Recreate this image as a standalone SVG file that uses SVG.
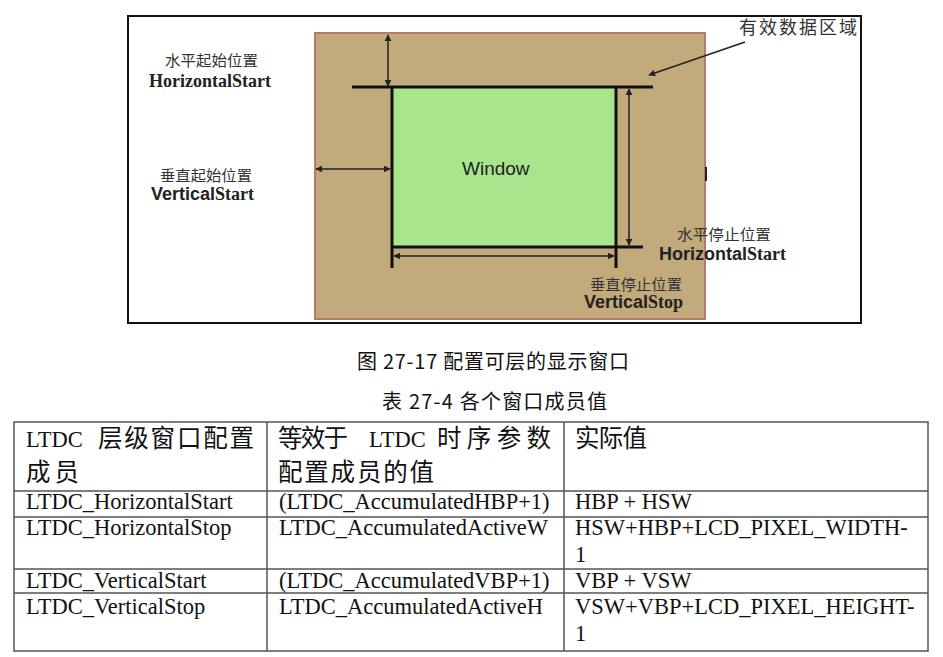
<svg xmlns="http://www.w3.org/2000/svg" width="943" height="657" viewBox="0 0 943 657">
<defs>
<style>
.cjk{font-family:"Noto Sans CJK SC","Noto Sans",sans-serif;}
.lbl{font-family:"Noto Sans CJK SC",sans-serif;font-size:15px;fill:#333;}
.tb{font-family:"Liberation Serif",serif;font-weight:bold;font-size:18px;fill:#222;}
.sb{font-family:"Liberation Sans",sans-serif;font-weight:bold;font-size:18px;fill:#222;}
.thick{stroke:#111;stroke-width:3;fill:none;}
.arr{stroke:#222;stroke-width:1.5;fill:none;}
.grid{stroke:#555;stroke-width:1.5;fill:none;}
.cell{font-family:"Liberation Serif",serif;font-size:22.5px;fill:#111;}
.hcjk{font-family:"Noto Sans CJK SC",sans-serif;font-size:24.5px;fill:#111;}
.cap{font-family:"Noto Sans CJK SC",sans-serif;font-size:20px;fill:#111;}
</style>
<marker id="ah" viewBox="0 0 10 10" refX="9" refY="5" markerWidth="7" markerHeight="7" orient="auto-start-reverse" markerUnits="userSpaceOnUse">
<path d="M0,0 L10,5 L0,10 z" fill="#222"/>
</marker>
</defs>
<rect width="943" height="657" fill="#fff"/>

<g id="frame">
<rect x="128" y="16" width="733" height="307" fill="#fff" stroke="#111" stroke-width="2"/>
</g>

<g id="data-area">
<rect x="315" y="33" width="390" height="286" fill="#c2aa7c" stroke="#b47a6c" stroke-width="2"/>
<line x1="706" y1="167" x2="706" y2="181" stroke="#222" stroke-width="2"/>
</g>

<g id="window">
<rect x="392" y="87" width="224" height="160" fill="#a8e58c"/>
<text x="462" y="175" font-family="Liberation Sans,sans-serif" font-size="19" fill="#222">Window</text>
</g>

<g id="guide-lines">
<line class="thick" x1="352" y1="87" x2="653" y2="87"/>
<line class="thick" x1="392" y1="86" x2="392" y2="268"/>
<line class="thick" x1="391" y1="247" x2="643" y2="247"/>
<line class="thick" x1="616" y1="86" x2="616" y2="268"/>
</g>

<g id="connectors">
<line class="arr" x1="388" y1="35" x2="388" y2="86" marker-start="url(#ah)" marker-end="url(#ah)"/>
<line class="arr" x1="316" y1="169" x2="390" y2="169" marker-start="url(#ah)" marker-end="url(#ah)"/>
<line class="arr" x1="394" y1="256" x2="614" y2="256" marker-start="url(#ah)" marker-end="url(#ah)"/>
<line class="arr" x1="629" y1="89" x2="629" y2="245" marker-start="url(#ah)" marker-end="url(#ah)"/>
<line class="arr" x1="745" y1="42" x2="649" y2="75" marker-end="url(#ah)"/>
</g>

<g id="label-hstart">
<text class="lbl" x="165" y="66" textLength="93" lengthAdjust="spacingAndGlyphs">水平起始位置</text>
<text class="tb" x="149" y="87" textLength="122" lengthAdjust="spacingAndGlyphs">HorizontalStart</text>
</g>
<g id="label-vstart">
<text class="lbl" x="160" y="181" textLength="92" lengthAdjust="spacingAndGlyphs">垂直起始位置</text>
<text x="151" y="200"><tspan class="sb">Vertical</tspan><tspan class="tb">Start</tspan></text>
</g>
<g id="label-area">
<text class="cjk" x="739" y="34" font-size="18" fill="#333" textLength="118" lengthAdjust="spacing">有效数据区域</text>
</g>
<g id="label-hstop">
<text class="lbl" x="677" y="240" textLength="94" lengthAdjust="spacingAndGlyphs">水平停止位置</text>
<text x="659" y="260"><tspan class="sb">Horizontal</tspan><tspan class="tb">Start</tspan></text>
</g>
<g id="label-vstop">
<text class="lbl" x="590" y="290" textLength="92" lengthAdjust="spacingAndGlyphs">垂直停止位置</text>
<text x="584" y="308"><tspan class="sb">Vertical</tspan><tspan class="tb">Stop</tspan></text>
</g>

<g id="captions">
<text class="cap" x="357" y="369" textLength="272" lengthAdjust="spacing">图 27-17 配置可层的显示窗口</text>
<text class="cap" x="382" y="409" textLength="225" lengthAdjust="spacing">表 27-4 各个窗口成员值</text>
</g>

<g id="table">
<rect class="grid" x="14" y="422" width="914" height="229"/>
<line class="grid" x1="267" y1="422" x2="267" y2="651"/>
<line class="grid" x1="564" y1="422" x2="564" y2="651"/>
<line class="grid" x1="14" y1="491" x2="928" y2="491"/>
<line class="grid" x1="14" y1="517" x2="928" y2="517"/>
<line class="grid" x1="14" y1="569" x2="928" y2="569"/>
<line class="grid" x1="14" y1="593" x2="928" y2="593"/>

<text class="cell" x="26" y="447" font-size="24">LTDC</text>
<text class="hcjk" x="98" y="447" textLength="156" lengthAdjust="spacing">层级窗口配置</text>
<text class="hcjk" x="26" y="481" textLength="53" lengthAdjust="spacing">成员</text>

<text class="hcjk" x="278" y="447" textLength="70" lengthAdjust="spacing">等效于</text>
<text class="cell" x="369" y="447">LTDC</text>
<text class="hcjk" x="437" y="447" textLength="114" lengthAdjust="spacing">时序参数</text>
<text class="hcjk" x="278" y="481" textLength="156" lengthAdjust="spacing">配置成员的值</text>

<text class="hcjk" x="575" y="447" textLength="72" lengthAdjust="spacing">实际值</text>

<text class="cell" x="26" y="509">LTDC_HorizontalStart</text>
<text class="cell" x="279" y="509">(LTDC_AccumulatedHBP+1)</text>
<text class="cell" x="575" y="509">HBP + HSW</text>

<text class="cell" x="26" y="535">LTDC_HorizontalStop</text>
<text class="cell" x="279" y="535">LTDC_AccumulatedActiveW</text>
<text class="cell" x="575" y="535">HSW+HBP+LCD_PIXEL_WIDTH-</text>
<text class="cell" x="575" y="562">1</text>

<text class="cell" x="26" y="588">LTDC_VerticalStart</text>
<text class="cell" x="279" y="588">(LTDC_AccumulatedVBP+1)</text>
<text class="cell" x="575" y="588">VBP + VSW</text>

<text class="cell" x="26" y="614">LTDC_VerticalStop</text>
<text class="cell" x="279" y="614">LTDC_AccumulatedActiveH</text>
<text class="cell" x="575" y="614">VSW+VBP+LCD_PIXEL_HEIGHT-</text>
<text class="cell" x="575" y="641">1</text>
</g>
</svg>
